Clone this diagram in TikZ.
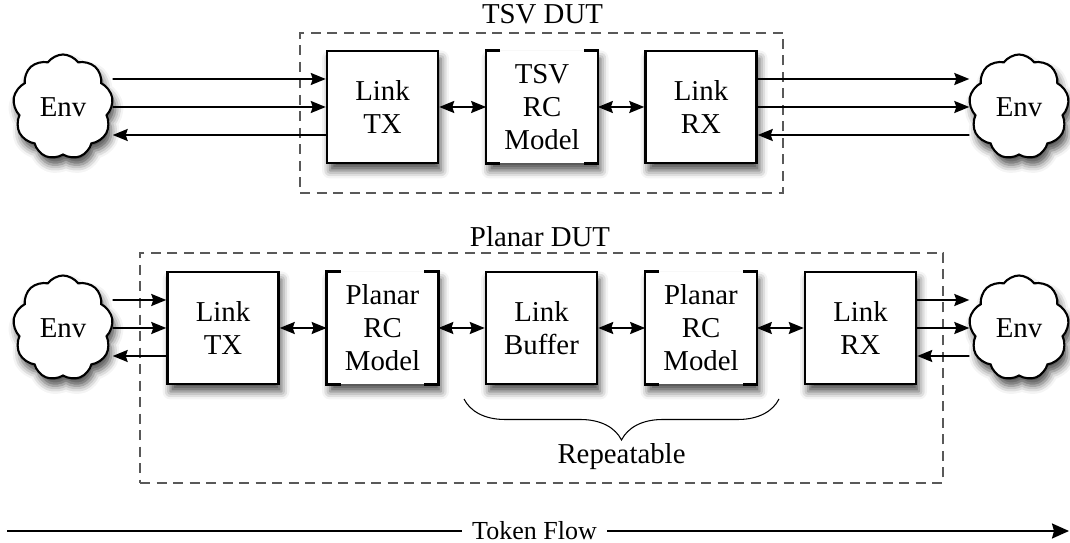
\documentclass[tikz,border=0pt]{standalone}
\usepackage{fontspec}
\setmainfont{Liberation Serif}
\usepackage{tikz}
\usetikzlibrary{arrows.meta, positioning, calc, shapes.symbols, shadows.blur, decorations.pathreplacing}

\tikzset{
  shd/.style={blur shadow={shadow xshift=0.06cm, shadow yshift=-0.15cm, shadow blur radius=0.16cm, shadow opacity=70}},
  blk/.style={draw, line width=1.4pt, fill=white, minimum width=2.22cm, minimum height=2.24cm, inner sep=0pt, align=center, shd},
  rcblk/.style={fill=white, minimum width=2.22cm, minimum height=2.24cm, inner sep=0pt, align=center, shd},
  env/.style={cloud, cloud puffs=9, cloud puff arc=110, aspect=1, draw, line width=1.2pt, fill=white, minimum width=2.0cm, minimum height=2.1cm, inner sep=0pt, shd},
  dut/.style={draw=black!65, dash pattern=on 0.2cm off 0.13cm, line width=1pt, minimum width=0pt, inner sep=0pt},
  arr/.style={-{Stealth[length=0.3cm, width=0.24cm, inset=0.04cm]}, line width=1.1pt},
  bidir/.style={{Stealth[length=0.3cm, width=0.24cm, inset=0.04cm]}-{Stealth[length=0.3cm, width=0.24cm, inset=0.04cm]}, line width=1.1pt},
}

\begin{document}
\begin{tikzpicture}[every node/.style={font=\fontsize{16.4}{18.8}\selectfont}]
    \useasboundingbox (0,0) rectangle (21.4,10.86);
    % DUT frames
    \node[dut, minimum width=9.66cm, minimum height=3.2cm] (tsvdut) at (10.83,8.6) {};
    \node (tsvlbl) at (10.85,10.58) {TSV DUT};
    \node[dut, minimum width=16.06cm, minimum height=4.6cm] (pldut) at (10.83,3.5) {};
    \node (pllbl) at (10.8,6.13) {Planar DUT};
    % TSV row
    \node[env] (envTL) at (1.26,8.72) {Env};
    \node[env] (envTR) at (20.38,8.72) {Env};
    \node[blk] (txT) at (7.65,8.72) {Link\\TX};
    \node[rcblk] (rcT) at (10.84,8.72) {TSV\\RC\\Model};
    \node[blk] (rxT) at (14.02,8.72) {Link\\RX};
    % planar row
    \node[env] (envBL) at (1.26,4.30) {Env};
    \node[env] (envBR) at (20.38,4.30) {Env};
    \node[blk] (txB) at (4.46,4.30) {Link\\TX};
    \node[rcblk] (rcA) at (7.65,4.30) {Planar\\RC\\Model};
    \node[blk] (buf) at (10.83,4.30) {Link\\Buffer};
    \node[rcblk] (rcB) at (14.02,4.30) {Planar\\RC\\Model};
    \node[blk] (rxB) at (17.21,4.30) {Link\\RX};
    % open-edged model boxes
    \foreach \n in {rcT,rcA,rcB} {
        \draw[line width=1.4pt] ([xshift=0.28cm]\n.north west) -| (\n.south west) -- ++(0.28cm,0);
        \draw[line width=1.4pt] ([xshift=-0.28cm]\n.north east) -| (\n.south east) -- ++(-0.28cm,0);
    }
    % env links
    \foreach \a/\b in {envTL/txT,envBL/txB} {
        \draw[arr] ([yshift=0.56cm]\a.east) -- ([yshift=0.56cm]\b.west);
        \draw[arr] (\a.east) -- (\b.west);
        \draw[arr] ([yshift=-0.56cm]\b.west) -- ([yshift=-0.56cm]\a.east);
    }
    \foreach \a/\b in {rxT/envTR,rxB/envBR} {
        \draw[arr] ([yshift=0.56cm]\a.east) -- ([yshift=0.56cm]\b.west);
        \draw[arr] (\a.east) -- (\b.west);
        \draw[arr] ([yshift=-0.56cm]\b.west) -- ([yshift=-0.56cm]\a.east);
    }
    % chain
    \draw[bidir] (txT) -- (rcT);
    \draw[bidir] (rcT) -- (rxT);
    \draw[bidir] (txB) -- (rcA);
    \draw[bidir] (rcA) -- (buf);
    \draw[bidir] (buf) -- (rcB);
    \draw[bidir] (rcB) -- (rxB);
    % repeatable part
    \coordinate (brL) at (9.28,2.88);
    \coordinate (brR) at (15.58,2.88);
    \draw[line width=0.6pt, decorate, decoration={brace, mirror, amplitude=0.82cm}] (brL) -- (brR);
    \node (rep) at (12.43,1.72) {Repeatable};
    % token flow
    \node[inner sep=0.2cm, font=\fontsize{14.8}{17}\selectfont] (tok) at (10.69,0.24) {Token Flow};
    \coordinate (tokL) at (0.14,0.24);
    \coordinate (tokR) at (21.38,0.24);
    \draw[line width=1.1pt] (tokL) -- (tok);
    \draw[-{Stealth[length=0.34cm, width=0.3cm, inset=0.04cm]}, line width=1.1pt] (tok) -- (tokR);
\end{tikzpicture}
\end{document}
